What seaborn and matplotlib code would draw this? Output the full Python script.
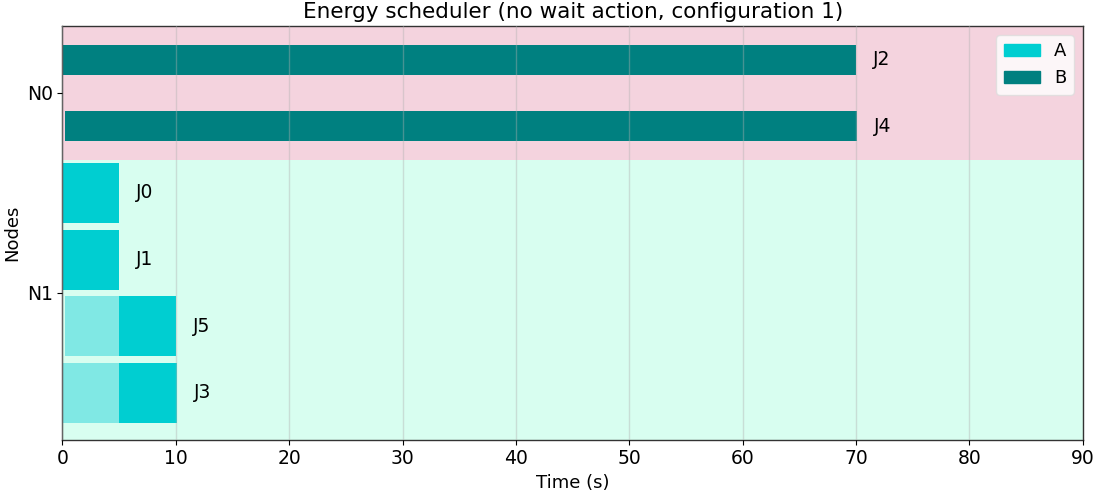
import matplotlib
matplotlib.use("Agg")
import matplotlib.pyplot as plt
import seaborn as sns
import pandas as pd
from matplotlib.patches import Patch

sns.set_theme(style="ticks")
plt.rcParams['font.family'] = ['DejaVu Sans']
plt.rcParams.update({"text.color": "black", "axes.labelcolor": "black",
                     "xtick.color": "black", "ytick.color": "black"})

# Data
jobs = ["J2", "J4", "J0", "J1", "J5", "J3"]
nodes = ["N0", "N0", "N1", "N1", "N1", "N1"]
job_type = ["B", "B", "A", "A", "A", "A"]
wait_start = [0.0, 0.2, 0.0, 0.0, 0.2, 0.0]
run_start = [0.0, 0.2, 0.0, 0.0, 5.0, 5.0]
run_end = [70.0, 70.1, 5.0, 5.0, 10.0, 10.1]
bar_height = [0.45, 0.45, 0.9, 0.9, 0.9, 0.9]
node_names = ["N0", "N1"]

df = pd.DataFrame(dict(job=jobs, node=nodes, type=job_type, wait_start=wait_start,
                       run_start=run_start, run_end=run_end, h=bar_height))
df["pos"] = range(len(df))

type_colors = {"A": "#00CED1", "B": "#008080"}
wait_colors = {"A": "#80E8E4", "B": "#66B3B3"}
node_bg = {"N0": "#F4D3DE", "N1": "#D8FEF0"}

fig, ax = plt.subplots(figsize=(10.96, 4.94), dpi=100)

# node background bands
for n in node_names:
    sub = df[df.node == n]
    ax.axhspan(sub.pos.min() - 0.5,
               sub.pos.max() + (0.5 if n == "N0" else 0.7),
               color=node_bg[n], zorder=0, lw=0)

for _, r in df.iterrows():
    if r.run_start > r.wait_start:
        ax.barh(r.pos, r.run_start - r.wait_start, left=r.wait_start, height=r.h,
                color=wait_colors[r.type], zorder=2, lw=0)
    ax.barh(r.pos, r.run_end - r.run_start, left=r.run_start, height=r.h,
            color=type_colors[r.type], zorder=2, lw=0)
    ax.text(r.run_end + 1.5, r.pos, r.job, va="center", ha="left", fontsize=13.5, zorder=4)

ax.set_xlim(0, 90)
ax.set_ylim(5.7, -0.5)
ax.set_xticks(range(0, 91, 10))
ticks = [df[df.node == n].pos.mean() for n in node_names]
ax.set_yticks(ticks)
ax.set_yticklabels(node_names)
ax.tick_params(labelsize=13.5, length=3.5, width=0.8, pad=3.5)
ax.xaxis.grid(True, color="#b0b0b0", alpha=0.4, lw=1, zorder=3)
ax.set_axisbelow(False)
for s in ax.spines.values():
    s.set_color("#333333")
    s.set_linewidth(1)
ax.set_xlabel("Time (s)", fontsize=13)
ax.set_ylabel("Nodes", fontsize=13)
ax.set_title("Energy scheduler (no wait action, configuration 1)", fontsize=15.5)

handles = [Patch(color=type_colors["A"], label="A"), Patch(color=type_colors["B"], label="B")]
ax.legend(handles=handles, loc="upper right", fontsize=13, frameon=True, framealpha=0.8,
          facecolor="white", edgecolor="#dddddd", fancybox=True, handlelength=2.0)

fig.subplots_adjust(left=0.057, right=0.988, top=0.947, bottom=0.11)
fig.savefig("out.png", dpi=100)
